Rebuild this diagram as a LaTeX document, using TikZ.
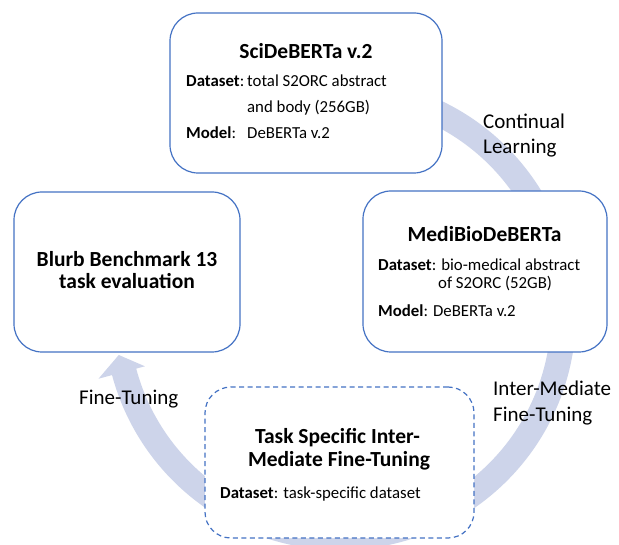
\documentclass[tikz,border=0pt]{standalone}
\usepackage{fontspec}
\setmainfont{Carlito}
\definecolor{arcfill}{HTML}{CDD4EA}
\definecolor{boxline}{HTML}{4472C4}
\tikzset{
  box/.style={draw=boxline, fill=white, line width=1.2pt, rounded corners=28pt, inner sep=0pt},
  dbox/.style={box, dash pattern=on 5pt off 3.5pt, rounded corners=26pt},
  ttl/.style={anchor=base, inner sep=0pt, font=\fontsize{21.5}{24}\selectfont\bfseries},
  body/.style={anchor=base west, inner sep=0pt, font=\fontsize{16.8}{19}\selectfont},
  lbl/.style={anchor=base west, inner sep=0pt, font=\fontsize{21}{24}\selectfont},
}
\begin{document}
\begin{tikzpicture}[x=1pt, y=-1pt]
\useasboundingbox (0,0) rectangle (619,545);
\fill[white] (0,0) rectangle (619,545);
% circular arrow
\begin{scope}[shift={(340,314)}]
\fill[arcfill] (-75:236) arc[start angle=-75, end angle=165, radius=236]
  -- (165:250) -- (169.5:225) -- (165:202) -- (165:211)
  arc[start angle=165, end angle=-75, radius=211] -- cycle;
\end{scope}
% boxes
\node[box, minimum width=272pt, minimum height=160pt] (sci) at (306,93) {};
\node[box, minimum width=244pt, minimum height=161pt] (medi) at (485,271.5) {};
\node[box, minimum width=226pt, minimum height=160pt] (blurb) at (127,272) {};
\node[dbox, minimum width=269pt, minimum height=151pt] (task) at (339.5,462.5) {};
% top box text
\node[ttl] (scit) at (306,59) {SciDeBERTa v.2};
\node[body] (scid) at (186,87) {\textbf{Dataset}:};
\node[body] (scid1) at (247,87) {total S2ORC abstract};
\node[body] (scid2) at (247,113) {and body (256GB)};
\node[body] (scim) at (186,139) {\textbf{Model}:};
\node[body] (scim2) at (247,139) {DeBERTa v.2};
% right box text
\node[ttl] (medit) at (484.5,242) {MediBioDeBERTa};
\node[body] (medid) at (378,271) {\textbf{Dataset}: bio-medical abstract};
\node[body] (medid2) at (438,289) {of S2ORC (52GB)};
\node[body] (medim) at (378,317) {\textbf{Model}: DeBERTa v.2};
% left box text
\node[ttl] (blurbt1) at (127,267) {Blurb Benchmark 13};
\node[ttl] (blurbt2) at (127,289) {task evaluation};
% bottom box text
\node[ttl] (taskt1) at (337.5,443) {Task Specific Inter-};
\node[ttl] (taskt2) at (339,467) {Mediate Fine-Tuning};
\node[body] (taskd) at (220,498) {\textbf{Dataset}: task-specific dataset};
% labels
\node[lbl] (cl1) at (483,129) {Continual};
\node[lbl] (cl2) at (483,154) {Learning};
\node[lbl] (im1) at (493,396) {Inter-Mediate};
\node[lbl] (im2) at (493,422) {Fine-Tuning};
\node[lbl] (ft) at (79,405) {Fine-Tuning};
\end{tikzpicture}
\end{document}
